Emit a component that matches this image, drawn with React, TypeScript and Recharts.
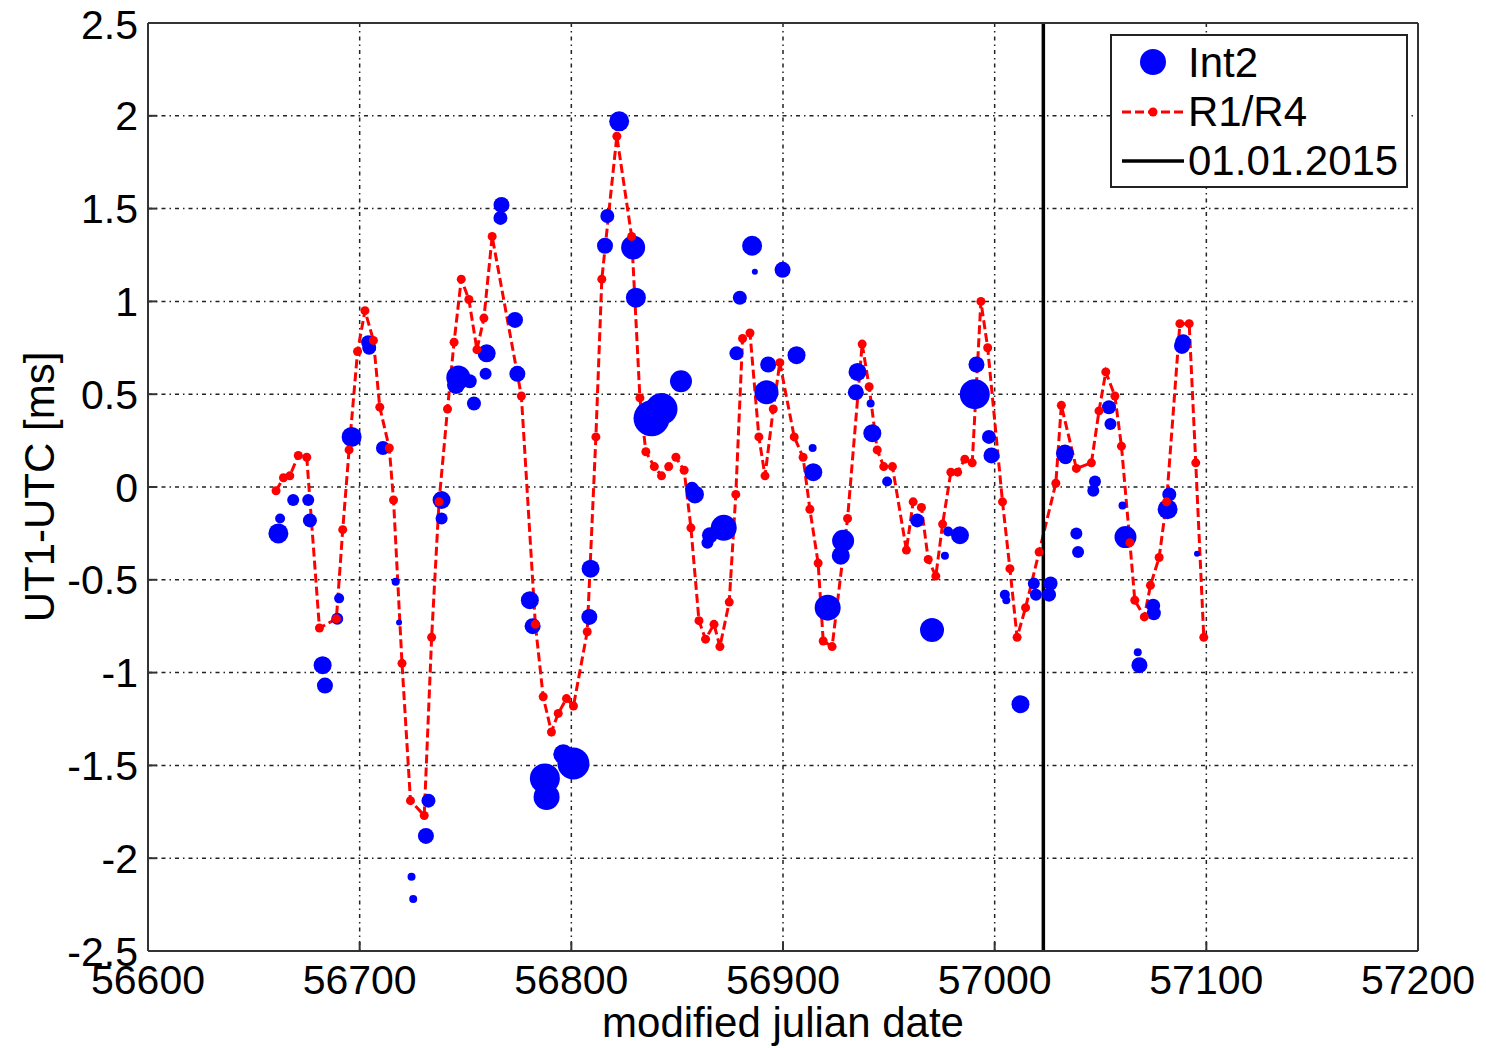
import React from "react";
import {
  ComposedChart,
  Line,
  Scatter,
  XAxis,
  YAxis,
  ZAxis,
  CartesianGrid,
  ReferenceLine,
  Legend,
  Label,
} from "recharts";

// R1/R4 sessions (red dashed line)
const r1r4Mjd = [
  56660.5, 56664, 56667, 56671, 56675, 56681, 56689, 56692, 56695, 56699,
  56702.5, 56706.5, 56709.5, 56714, 56716, 56720, 56724, 56730.5, 56734, 56737.5,
  56741.5, 56744.6, 56748, 56751.6, 56755.4, 56758.7, 56762.6, 56776.4, 56783, 56786.7,
  56790.6, 56793.8, 56797.7, 56801, 56807.5, 56811.6, 56814.4, 56821.5, 56828.5, 56832.4,
  56835.2, 56839.2, 56842.6, 56846, 56849.4, 56853.3, 56856.5, 56860.3, 56863.4, 56867.4,
  56870.2, 56874.6, 56877.7, 56880.9, 56884.4, 56888.6, 56891.5, 56895.4, 56898.5, 56905.3,
  56909.5, 56912.7, 56916.6, 56919, 56923.2, 56930.5, 56937.4, 56940.7, 56944.5, 56947.6,
  56951.7, 56958.3, 56961.5, 56965.4, 56968.6, 56972.2, 56975.4, 56979.3, 56982.5, 56985.9,
  56989.4, 56993.5, 56996.7, 57003.7, 57007.2, 57010.6, 57014.6, 57021, 57028.9, 57031.5,
  57038.6, 57045.7, 57049.3, 57052.5, 57056.8, 57059.9, 57063.9, 57066.2, 57070.7, 57073.6,
  57077.7, 57081.2, 57087.5, 57091.9, 57095, 57098.8,
];
const r1r4Ut1 = [
  -0.02, 0.05, 0.06, 0.17, 0.16, -0.76, -0.71, -0.23, 0.2, 0.73,
  0.95, 0.79, 0.43, 0.21, -0.07, -0.95, -1.69, -1.77, -0.81, -0.08,
  0.42, 0.78, 1.12, 1.01, 0.74, 0.91, 1.35, 0.49, -0.74, -1.13,
  -1.32, -1.22, -1.14, -1.18, -0.78, 0.27, 1.12, 1.89, 1.35, 0.48,
  0.19, 0.11, 0.06, 0.11, 0.16, 0.09, -0.22, -0.72, -0.82, -0.74,
  -0.86, -0.62, -0.04, 0.8, 0.83, 0.27, 0.06, 0.42, 0.67, 0.27,
  0.16, -0.12, -0.41, -0.83, -0.86, -0.17, 0.77, 0.54, 0.2, 0.11,
  0.11, -0.34, -0.08, -0.11, -0.39, -0.48, -0.2, 0.08, 0.08, 0.15,
  0.13, 1.0, 0.75, -0.08, -0.44, -0.81, -0.65, -0.35, 0.02, 0.44,
  0.1, 0.13, 0.41, 0.62, 0.49, 0.22, -0.3, -0.61, -0.7, -0.53,
  -0.38, -0.08, 0.88, 0.88, 0.13, -0.81,
];

// Int2 sessions (blue bubbles), weight = marker size class
const int2Mjd = [
  56661.6, 56662.4, 56668.6, 56675.7, 56676.5, 56682.5, 56683.6, 56689.4, 56690.3, 56696.2,
  56704, 56704.5, 56711, 56717, 56718.6, 56724.5, 56725.3, 56731.3, 56732.5, 56738.7,
  56738.7, 56745.5, 56746.6, 56752, 56754, 56759.5, 56760, 56766.5, 56767, 56773.4,
  56774.5, 56780.4, 56781.7, 56787.5, 56788.3, 56796.2, 56801, 56808.5, 56809.1, 56815.9,
  56817, 56822.6, 56829.2, 56830.5, 56837.9, 56842.6, 56851.8, 56857, 56858.4, 56864.3,
  56865.5, 56872, 56878, 56879.6, 56885.4, 56886.7, 56892.2, 56893, 56899.8, 56906.4,
  56914, 56914.3, 56921.1, 56927.3, 56928.4, 56934.4, 56935.2, 56941.4, 56942.2, 56949.2,
  56963.4, 56970.4, 56976.5, 56978, 56983.6, 56990.6, 56991.4, 56997.3, 56998.5, 57004.8,
  57005.5, 57012.2, 57018.5, 57019.5, 57025.7, 57026.4, 57033.2, 57033.5, 57038.6, 57039.4,
  57046.6, 57047.4, 57054, 57054.7, 57060.4, 57061.8, 57067.6, 57068.4, 57074.9, 57075.2,
  57081.7, 57082.5, 57088.5, 57089, 57095.6,
];
const int2Ut1 = [
  -0.25, -0.17, -0.07, -0.07, -0.18, -0.96, -1.07, -0.71, -0.6, 0.27,
  0.78, 0.75, 0.21, -0.51, -0.73, -2.1, -2.22, -1.88, -1.69, -0.07,
  -0.17, 0.55, 0.59, 0.57, 0.45, 0.61, 0.72, 1.45, 1.52, 0.9,
  0.61, -0.61, -0.75, -1.57, -1.67, -1.44, -1.49, -0.7, -0.44, 1.3,
  1.46, 1.97, 1.29, 1.02, 0.37, 0.42, 0.57, -0.01, -0.04, -0.3,
  -0.26, -0.22, 0.72, 1.02, 1.3, 1.16, 0.51, 0.66, 1.17, 0.71,
  0.21, 0.08, -0.65, -0.37, -0.29, 0.51, 0.62, 0.45, 0.29, 0.03,
  -0.18, -0.77, -0.37, -0.24, -0.26, 0.5, 0.66, 0.27, 0.17, -0.58,
  -0.61, -1.17, -0.52, -0.58, -0.58, -0.52, 0.18, 0.16, -0.25, -0.35,
  -0.02, 0.03, 0.43, 0.34, -0.1, -0.27, -0.89, -0.96, -0.64, -0.68,
  -0.12, -0.04, 0.76, 0.78, -0.36,
];
const int2Weight = [
  10, 5, 6, 6, 7, 9, 8, 6, 5, 10,
  7, 7, 7, 4, 3, 4, 4, 8, 7, 9,
  6, 9, 12, 7, 7, 6, 9, 7, 8, 8,
  8, 9, 8, 15, 13, 10, 16, 8, 9, 8,
  7, 10, 12, 10, 18, 16, 11, 7, 9, 6,
  8, 13, 7, 7, 10, 3, 12, 8, 8, 9,
  4, 9, 13, 9, 11, 8, 9, 4, 9, 5,
  7, 12, 4, 5, 9, 15, 8, 7, 8, 5,
  4, 9, 6, 6, 7, 7, 9, 7, 6, 6,
  6, 6, 7, 6, 4, 11, 4, 8, 7, 7,
  10, 7, 8, 8, 3,
];

const xTicks = [56600, 56700, 56800, 56900, 57000, 57100, 57200];
const yTicks = [-2.5, -2, -1.5, -1, -0.5, 0, 0.5, 1, 1.5, 2, 2.5];
const newYearMjd = 57023;

const r1r4Data = r1r4Mjd.map((mjd, i) => ({ mjd, ut1: r1r4Ut1[i] }));
const int2Data = int2Mjd.map((mjd, i) => ({ mjd, ut1: int2Ut1[i], w: int2Weight[i] }));

const FONT = '"Liberation Sans", Arial, sans-serif';

const Bubble = (props: any) => {
  const { cx, cy, size } = props;
  if (cx == null || cy == null) return null;
  return <circle cx={cx} cy={cy} r={size} fill="#0000ff" />;
};

const LegendBox = () => {
  const row = { display: "flex", alignItems: "center", height: 49 } as const;
  const text = { fontSize: 42, lineHeight: "49px", color: "#000", marginLeft: 4 };
  return (
    <div
      style={{
        border: "2px solid #222",
        background: "#fff",
        width: 294,
        height: 148,
        paddingTop: 2,
        boxSizing: "content-box",
        fontFamily: FONT,
      }}
    >
      <div style={row}>
        <svg width={72} height={49}>
          <circle cx={41} cy={24} r={13} fill="#0000ff" />
        </svg>
        <span style={text}>Int2</span>
      </div>
      <div style={row}>
        <svg width={72} height={49}>
          <line x1={10} y1={25} x2={72} y2={25} stroke="#ff0000" strokeWidth={3} strokeDasharray="9 4" />
          <circle cx={41} cy={25} r={4.5} fill="#ff0000" />
        </svg>
        <span style={text}>R1/R4</span>
      </div>
      <div style={row}>
        <svg width={72} height={49}>
          <line x1={10} y1={25} x2={72} y2={25} stroke="#000" strokeWidth={3.5} />
        </svg>
        <span style={text}>01.01.2015</span>
      </div>
    </div>
  );
};

const YTitle = (props: any) => {
  const vb = props.viewBox || { x: 0, y: 0, width: 0, height: 0 };
  const cx = vb.x + 39;
  const cy = vb.y + vb.height / 2;
  return (
    <text
      x={cx}
      y={cy}
      transform={`rotate(-90 ${cx} ${cy})`}
      textAnchor="middle"
      dominantBaseline="central"
      fontSize={42}
      fill="#000"
      fontFamily={FONT}
    >
      UT1-UTC [ms]
    </text>
  );
};

export default function App() {
  return (
    <div
      style={{
        position: "absolute",
        left: 0,
        top: 0,
        width: 1486,
        height: 1048,
        background: "#fff",
        fontFamily: FONT,
      }}
    >
      <ComposedChart
        width={1486}
        height={1048}
        margin={{ top: 22, right: 67, bottom: 0, left: 0 }}
        style={{ fontFamily: FONT }}
      >
        <CartesianGrid stroke="#222" strokeWidth={1.5} strokeDasharray="4 4 1.5 4" />
        <XAxis
          dataKey="mjd"
          type="number"
          domain={[56600, 57200]}
          ticks={xTicks}
          height={97}
          tickSize={-9}
          tickMargin={23}
          tick={{ fontSize: 41, fill: "#000" }}
          axisLine={{ stroke: "#333", strokeWidth: 2 }}
          tickLine={{ stroke: "#333", strokeWidth: 2 }}
        >
          <Label
            value="modified julian date"
            position="insideBottom"
            offset={11}
            style={{ fontSize: 42, fill: "#000" }}
          />
        </XAxis>
        <XAxis
          xAxisId="top"
          orientation="top"
          type="number"
          domain={[56600, 57200]}
          ticks={xTicks}
          height={1}
          tickSize={-9}
          tick={false}
          axisLine={{ stroke: "#333", strokeWidth: 2 }}
          tickLine={{ stroke: "#333", strokeWidth: 2 }}
        />
        <YAxis
          dataKey="ut1"
          type="number"
          domain={[-2.5, 2.5]}
          ticks={yTicks}
          width={148}
          tickSize={-9}
          tickMargin={19}
          tick={{ fontSize: 41, fill: "#000" }}
          axisLine={{ stroke: "#333", strokeWidth: 2 }}
          tickLine={{ stroke: "#333", strokeWidth: 2 }}
        >
          <Label content={<YTitle />} />
        </YAxis>
        <YAxis
          yAxisId="right"
          orientation="right"
          type="number"
          domain={[-2.5, 2.5]}
          ticks={yTicks}
          width={1}
          tickSize={-9}
          tick={false}
          axisLine={{ stroke: "#333", strokeWidth: 2 }}
          tickLine={{ stroke: "#333", strokeWidth: 2 }}
        />
        <ZAxis dataKey="w" type="number" domain={[3, 18]} range={[3, 18]} />
        <Scatter
          name="Int2"
          data={int2Data}
          fill="#0000ff"
          shape={<Bubble />}
          isAnimationActive={false}
        />
        <Line
          name="R1/R4"
          data={r1r4Data}
          dataKey="ut1"
          type="linear"
          stroke="#ff0000"
          strokeWidth={3}
          strokeDasharray="9 4"
          dot={{ r: 4.5, fill: "#ff0000", stroke: "#ff0000", strokeWidth: 0 }}
          activeDot={false}
          isAnimationActive={false}
        />
        <ReferenceLine x={newYearMjd} stroke="#000" strokeWidth={3.5} />
        <Legend
          layout="vertical"
          align="center"
          verticalAlign="middle"
          content={<LegendBox />}
          wrapperStyle={{ position: "absolute", left: 1110, top: 34, width: 298 }}
        />
      </ComposedChart>
    </div>
  );
}
